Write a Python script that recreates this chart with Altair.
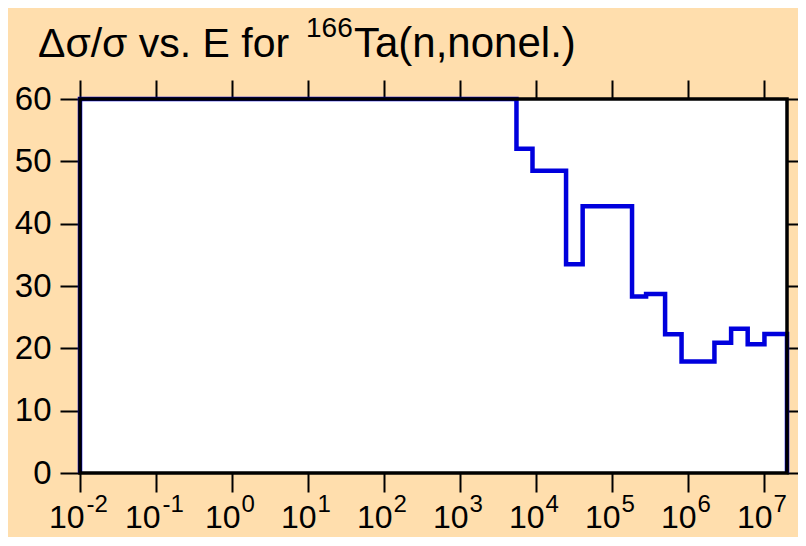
import altair as alt
import pandas as pd

# ---- data ----
edges = [1e-2, 5.52e3, 8.97e3, 2.48e4, 4.1e4, 1.83e5, 2.8e5, 4.98e5, 8.2e5,
         2.22e6, 3.68e6, 6.08e6, 1.01e7, 2e7]
values = [60, 52.0, 48.5, 33.5, 42.8, 28.3, 28.7, 22.25, 17.9, 20.9, 23.15, 20.65, 22.3]
x_exponents = [-2, -1, 0, 1, 2, 3, 4, 5, 6, 7]
y_ticks = [0, 10, 20, 30, 40, 50, 60]
title_main = "Δσ/σ vs. E for"
title_sup = "166"
title_rest = "Ta(n,nonel.)"

W, H = 707, 374
FONT = "Liberation Sans"
BG = "#FFDEAD"
BLUE = "#0000dd"

pts = [(edges[0], 0.0)] + [(edges[i], values[i]) for i in range(len(values))] \
    + [(edges[-1], values[-1]), (edges[-1], 0.0)]
df_line = pd.DataFrame({"E": [p[0] for p in pts], "v": [p[1] for p in pts],
                        "o": list(range(len(pts)))})

x_tick_vals = [10.0 ** k for k in x_exponents]
df_lab = pd.DataFrame({"E": x_tick_vals, "exp": [str(k) for k in x_exponents],
                       "neg": [k < 0 for k in x_exponents]})

xscale = alt.Scale(type="log", domain=[edges[0], edges[-1]], nice=False)
yscale = alt.Scale(domain=[0, 60], nice=False)

x_bottom = alt.Axis(orient="bottom", values=x_tick_vals, labels=False, tickSize=19,
                    tickWidth=2, tickColor="black", domain=False, grid=False, title=None)
y_left = alt.Axis(orient="left", values=y_ticks, tickSize=20, tickWidth=2, tickColor="black",
                  labelFontSize=33, labelFont=FONT, labelColor="black", labelPadding=9,
                  domain=False, grid=False, title=None)
x_top = alt.Axis(orient="top", values=x_tick_vals, labels=False, tickSize=19, tickWidth=2,
                 tickColor="black", domain=False, grid=False, title=None)
y_right = alt.Axis(orient="right", values=y_ticks, labels=False, tickSize=20, tickWidth=2,
                   tickColor="black", domain=False, grid=False, title=None)

line = alt.Chart(df_line).mark_line(interpolate="step-after", color=BLUE, strokeWidth=4.5).encode(
    x=alt.X("E:Q", scale=xscale, axis=x_bottom),
    y=alt.Y("v:Q", scale=yscale, axis=y_left),
    order="o:Q",
)

ghost = alt.Chart(df_line).mark_point(opacity=0).encode(
    x=alt.X("E:Q", scale=xscale, axis=x_top),
    y=alt.Y("v:Q", scale=yscale, axis=y_right),
)

frame = alt.Chart(alt.Data(values=[{}])).mark_rect(
    fill="transparent", stroke="black", strokeWidth=3.5
).encode(x=alt.value(0), x2=alt.value(W), y=alt.value(0), y2=alt.value(H))

def lab_layers(neg, dx10, dxexp):
    base = alt.Chart(df_lab).transform_filter(
        alt.datum.neg if neg else ~alt.datum.neg)
    ten = base.mark_text(text="10", align="right", baseline="alphabetic", dx=dx10,
                         font=FONT, fontSize=32, color="black").encode(
        x=alt.X("E:Q", scale=xscale, axis=None), y=alt.value(429))
    ex = base.mark_text(align="left", baseline="alphabetic", dx=dxexp,
                        font=FONT, fontSize=24, color="black").encode(
        x=alt.X("E:Q", scale=xscale, axis=None), y=alt.value(413), text="exp:N")
    return [ten, ex]

labels = lab_layers(True, 4.5, 6.5) + lab_layers(False, 8.5, 9.5)

t1 = alt.Chart(alt.Data(values=[{}])).mark_text(
    text=title_main, align="left", baseline="alphabetic", font=FONT, fontSize=41, color="black"
).encode(x=alt.value(-42), y=alt.value(-42))
t2 = alt.Chart(alt.Data(values=[{}])).mark_text(
    text=title_sup, align="left", baseline="alphabetic", font=FONT, fontSize=28, color="black"
).encode(x=alt.value(226), y=alt.value(-62))
t3 = alt.Chart(alt.Data(values=[{}])).mark_text(
    text=title_rest, align="left", baseline="alphabetic", font=FONT, fontSize=42, color="black"
).encode(x=alt.value(274), y=alt.value(-42))

chart = alt.layer(line, ghost, frame, *labels, t1, t2, t3).resolve_axis(
    x="independent", y="independent"
).properties(
    width=W, height=H, background=BG,
    autosize=alt.AutoSizeParams(type="none"),
    padding={"left": 72, "top": 91, "right": 11, "bottom": 64},
).configure_view(fill="white", stroke="transparent")

chart.save("out.html", embed_options={"renderer": "svg", "actions": False})
